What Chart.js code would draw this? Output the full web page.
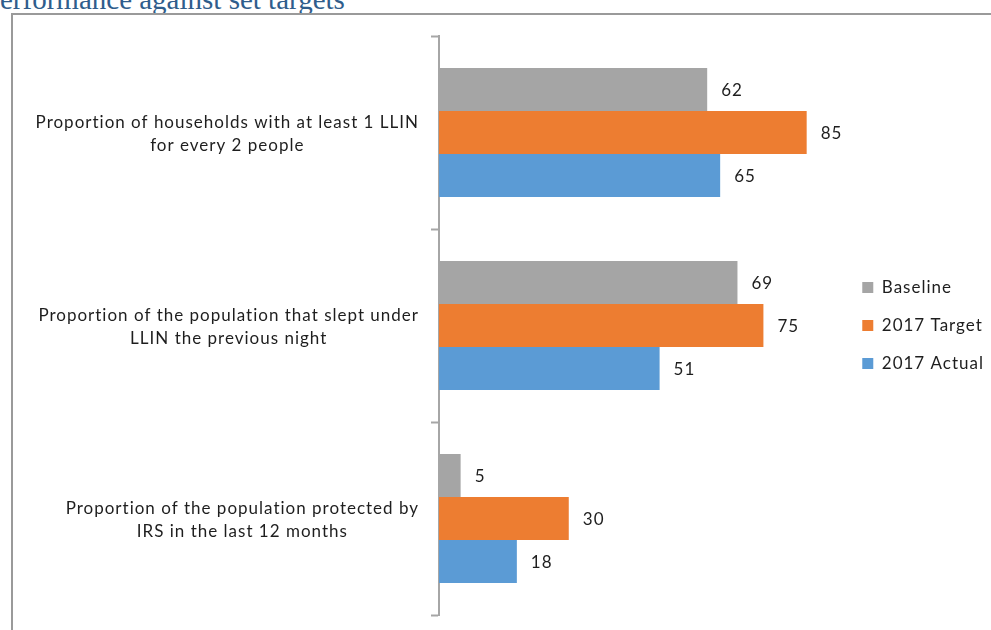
<!DOCTYPE html>
<html>
<head>
<meta charset="utf-8">
<script src="https://cdn.jsdelivr.net/npm/chart.js@4"></script>
<style>
  html, body { margin: 0; padding: 0; background: #fff; overflow: hidden; }
  #wrap { position: relative; width: 991px; height: 630px; overflow: hidden; }
  #title { position: absolute; top: -17px; left: 0; font-family: "Liberation Serif", "Times New Roman", serif;
           font-size: 29px; line-height: 33px; color: #2f5d8c; white-space: nowrap; }
  #frame { position: absolute; left: 11px; top: 13px; width: 1100px; height: 700px;
           border: 2px solid #9a9a9a; box-sizing: border-box; }
  #myChart { position: absolute; left: 0; top: 0; }
</style>
</head>
<body>
<div id="wrap">
  <div id="title">Performance against set targets</div>
  <div id="frame"></div>
  <canvas id="myChart" width="991" height="630"></canvas>
</div>
<script>
// hide the first letter off the left edge like the cropped original
const title = document.getElementById('title');
const probe = document.createElement('span');
probe.style.font = getComputedStyle(title).font;
probe.textContent = 'P';
document.body.appendChild(probe);
title.style.left = -probe.getBoundingClientRect().width + 'px';
probe.remove();

const categories = [
  ['Proportion of households with at least 1 LLIN', 'for every 2 people'],
  ['Proportion of the population that slept under', 'LLIN the previous night'],
  ['Proportion of the population protected by', 'IRS in the last 12 months']
];
const baseline = [62, 69, 5];
const target2017 = [85, 75, 30];
const actual2017 = [65, 51, 18];

const FONT = 'Lato, "Open Sans", sans-serif';
const TEXT = '#1e1e1e';

// the original text is rendered a bit wider, spread the letters
const spacing = {
  id: 'spacing',
  beforeUpdate(chart) { chart.ctx.letterSpacing = '1px'; }
};

const barLabels = {
  id: 'barLabels',
  afterDatasetsDraw(chart) {
    const c = chart.ctx;
    c.save();
    c.font = '17px ' + FONT;
    c.fillStyle = TEXT;
    c.textBaseline = 'middle';
    c.textAlign = 'left';
    chart.data.datasets.forEach((ds, i) => {
      chart.getDatasetMeta(i).data.forEach((bar, j) => {
        c.fillText(ds.data[j], bar.x + 14, bar.y + 1);
      });
    });
    c.restore();
  }
};

const catLabels = {
  id: 'catLabels',
  afterDraw(chart) {
    const c = chart.ctx;
    const y = chart.scales.y;
    c.save();
    c.font = '17px ' + FONT;
    c.fillStyle = TEXT;
    c.textBaseline = 'middle';
    c.textAlign = 'center';
    categories.forEach((lines, i) => {
      const w = Math.max(...lines.map(l => c.measureText(l).width));
      const cx = y.right - 20 - w / 2;
      const cy = y.getPixelForValue(i) + 1.5;
      const lh = 23;
      lines.forEach((l, k) => {
        c.fillText(l, cx, cy + (k - (lines.length - 1) / 2) * lh);
      });
    });
    c.restore();
  }
};

new Chart(document.getElementById('myChart'), {
  type: 'bar',
  data: {
    labels: categories,
    datasets: [
      { label: 'Baseline', data: baseline, backgroundColor: '#a5a5a5' },
      { label: '2017 Target', data: target2017, backgroundColor: '#ed7d31' },
      { label: '2017 Actual', data: actual2017, backgroundColor: '#5b9bd5' }
    ]
  },
  options: {
    indexAxis: 'y',
    responsive: false,
    animation: false,
    categoryPercentage: 0.668,
    barPercentage: 1,
    layout: { padding: { top: 36, bottom: 15, left: 0, right: -3 } },
    scales: {
      x: { display: false, min: 0, max: 93 },
      y: {
        ticks: { display: false },
        grid: { display: true, drawOnChartArea: false, drawTicks: true, tickLength: 8,
                tickColor: '#a6a6a6', tickWidth: 2, offset: true },
        border: { display: true, color: '#a6a6a6', width: 2 },
        afterFit(scale) { scale.width = 439; }
      }
    },
    plugins: {
      legend: {
        position: 'right',
        labels: { boxWidth: 11, boxHeight: 11, padding: 21, color: TEXT,
                  font: { family: FONT, size: 17 } }
      },
      tooltip: { enabled: false }
    }
  },
  plugins: [spacing, barLabels, catLabels]
});
</script>
</body>
</html>
